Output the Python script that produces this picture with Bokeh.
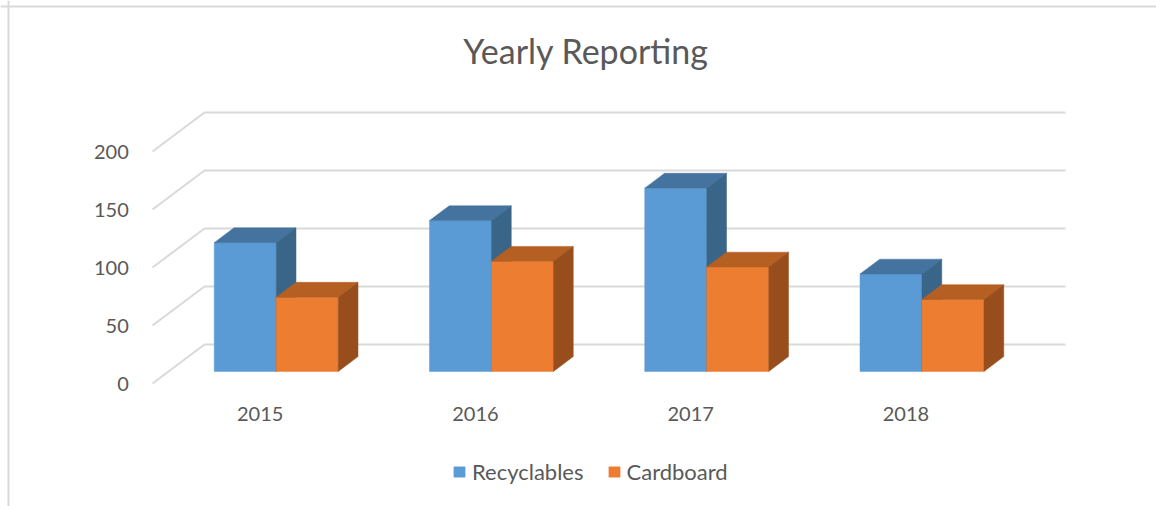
from bokeh.plotting import figure
from bokeh.models import ColumnDataSource, Range1d, Legend, LegendItem, Span
from bokeh.core.properties import value
from bokeh.embed import file_html
from bokeh.resources import INLINE

# ---- data ----
years = ["2015", "2016", "2017", "2018"]
recyclables = [111, 130, 158, 84]
cardboard = [64, 95, 90, 62]
y_ticks = [0, 50, 100, 150, 200]
title_text = "Yearly Reporting"

# ---- style / geometry ----
FONT = "Lato"
TXT = "#595959"
GRID = "#D9D9D9"
DX = 0.2416   # oblique depth offset in category units (full depth)
DY = 33.6     # oblique depth offset in value units (full depth)
F0, F1 = 0.31, 0.69  # bar front / back depth fractions
GAP = 0.212   # gap inside category on each side
BW = (1 - 2 * GAP) / 2

W, H = 1156, 506
PX_CAT = 215.25
PX_VAL = 1.16
x0 = -152 / PX_CAT
y1 = 383 / PX_VAL

p = figure(width=W, height=H, output_backend="svg", toolbar_location=None,
           x_range=Range1d(x0, x0 + W / PX_CAT), y_range=Range1d(y1 - H / PX_VAL, y1),
           x_axis_location=None, y_axis_location=None, min_border=0)
p.grid.visible = False
p.outline_line_color = None
p.background_fill_color = "white"
p.border_fill_color = "white"


def proj(x, v, f):
    return x + f * DX, v + f * DY


# gridlines: back wall + left side wall
gx, gy = [], []
for t in y_ticks:
    a = proj(0, t, 0); b = proj(0, t, 1); c = proj(len(years), t, 1)
    gx.append([a[0], b[0], c[0]]); gy.append([a[1], b[1], c[1]])
p.multi_line(gx, gy, line_color=GRID, line_width=2)


def boxes(vals, offset):
    fr = dict(xs=[], ys=[]); tp = dict(xs=[], ys=[]); sd = dict(xs=[], ys=[])
    for i, v in enumerate(vals):
        xa = i + GAP + offset * BW
        xb = xa + BW
        pts = [proj(xa, 0, F0), proj(xb, 0, F0), proj(xb, v, F0), proj(xa, v, F0)]
        fr["xs"].append([q[0] for q in pts]); fr["ys"].append([q[1] for q in pts])
        pts = [proj(xa, v, F0), proj(xb, v, F0), proj(xb, v, F1), proj(xa, v, F1)]
        tp["xs"].append([q[0] for q in pts]); tp["ys"].append([q[1] for q in pts])
        pts = [proj(xb, 0, F0), proj(xb, 0, F1), proj(xb, v, F1), proj(xb, v, F0)]
        sd["xs"].append([q[0] for q in pts]); sd["ys"].append([q[1] for q in pts])
    return fr, tp, sd


series = [("Recyclables", recyclables, "#5B9BD5", "#44739F", "#386588"),
          ("Cardboard", cardboard, "#ED7D31", "#B55F22", "#984E1C")]
items = []
for k, (name, vals, cf, ct, cs) in enumerate(series):
    fr, tp, sd = boxes(vals, k)
    r = p.patches("xs", "ys", source=ColumnDataSource(fr), fill_color=cf, line_color=cf, line_width=0.5)
    p.patches("xs", "ys", source=ColumnDataSource(tp), fill_color=ct, line_color=ct, line_width=0.5)
    p.patches("xs", "ys", source=ColumnDataSource(sd), fill_color=cs, line_color=cs, line_width=0.5)
    items.append(LegendItem(label=name, renderers=[r]))

# y tick labels
p.text(x=[-0.11] * len(y_ticks), y=y_ticks, text=[str(t) for t in y_ticks],
       text_font=value(FONT), text_font_size="20px", text_color=TXT,
       text_align="right", text_baseline="middle")

# category labels
p.text(x=[i + 0.5 for i in range(len(years))], y=[-26.7] * len(years), text=years,
       text_font=value(FONT), text_font_size="20px", text_color=TXT,
       text_align="center", text_baseline="middle")

# title
p.text(x=[2.014], y=[287.1], text=[title_text], text_font=value(FONT),
       text_font_size="34px", text_color=TXT, text_align="center",
       text_baseline="middle")

legend = Legend(items=items, orientation="horizontal", location=(452, 21),
                glyph_width=14, glyph_height=13, label_standoff=6, spacing=23,
                padding=0, margin=0, border_line_color=None, background_fill_alpha=0,
                label_text_font=FONT, label_text_font_size="22px", label_text_color=TXT)
p.add_layout(legend, "center")

# chart area border (top and left)
p.add_layout(Span(location=(383 - 6) / PX_VAL, dimension="width", line_color=GRID, line_width=2))
p.add_layout(Span(location=(8 - 152) / PX_CAT, dimension="height", line_color=GRID, line_width=2))

open("out.html", "w").write(file_html(p, INLINE))
